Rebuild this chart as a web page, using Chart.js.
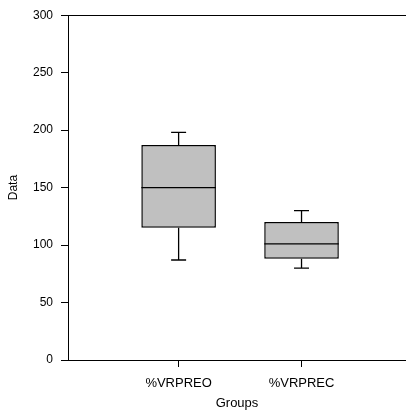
<!DOCTYPE html>
<html>
<head>
<meta charset="utf-8">
<script src="https://cdn.jsdelivr.net/npm/chart.js@4/dist/chart.umd.min.js"></script>
<style>
  html, body { margin: 0; padding: 0; background: #fff; }
  #wrap { width: 406px; height: 415px; }
</style>
</head>
<body>
<div id="wrap"><canvas id="c" width="406" height="415"></canvas></div>
<script>
// ---- data ----
const groups = ['%VRPREO', '%VRPREC'];
const whiskerLow = [87, 80];
const quartile1 = [115, 88];
const medians = [150, 101];
const quartile3 = [187, 120];
const whiskerHigh = [198, 130];
const yTicks = [0, 50, 100, 150, 200, 250, 300];

// ---- build datasets ----
const BOX_HALF = 0.303;
const CAP_HALF = 0.061;
const positions = groups.map((g, i) => i + 1);

const boxData = positions.map((x, i) => ({ x: x, y: [quartile1[i], quartile3[i]] }));

const whiskerPts = [];
positions.forEach((x, i) => {
  whiskerPts.push({ x: x, y: quartile3[i] }, { x: x, y: whiskerHigh[i] }, { x: x, y: null });
  whiskerPts.push({ x: x - CAP_HALF, y: whiskerHigh[i] }, { x: x + CAP_HALF, y: whiskerHigh[i] }, { x: x, y: null });
  whiskerPts.push({ x: x, y: quartile1[i] }, { x: x, y: whiskerLow[i] }, { x: x, y: null });
  whiskerPts.push({ x: x - CAP_HALF, y: whiskerLow[i] }, { x: x + CAP_HALF, y: whiskerLow[i] }, { x: x, y: null });
});
const medianPts = [];
positions.forEach((x, i) => {
  medianPts.push({ x: x - BOX_HALF, y: medians[i] }, { x: x + BOX_HALF, y: medians[i] }, { x: x, y: null });
});

const FONT = { family: "'Liberation Sans', Arial, sans-serif", size: 12 };
const XFONT = { family: "'Liberation Sans', Arial, sans-serif", size: 13 };

new Chart(document.getElementById('c'), {
  type: 'bar',
  data: {
    datasets: [
      {
        type: 'bar',
        data: boxData,
        backgroundColor: '#c0c0c0',
        borderColor: '#000',
        borderWidth: 1.5,
        borderSkipped: false,
        barPercentage: 0.607,
        categoryPercentage: 1,
        order: 2
      },
      {
        type: 'line',
        data: whiskerPts,
        borderColor: '#000',
        borderWidth: 1.3,
        pointRadius: 0,
        spanGaps: false,
        tension: 0,
        fill: false,
        order: 1
      },
      {
        type: 'line',
        data: medianPts,
        borderColor: '#000',
        borderWidth: 1.3,
        pointRadius: 0,
        spanGaps: false,
        tension: 0,
        fill: false,
        order: 0
      }
    ]
  },
  options: {
    responsive: false,
    animation: false,
    devicePixelRatio: 1,
    layout: { padding: { top: 15, right: 0, bottom: 0, left: 0 } },
    plugins: { legend: { display: false }, tooltip: { enabled: false } },
    scales: {
      x: {
        type: 'linear',
        min: 0.1,
        max: 2.85,
        offset: false,
        afterBuildTicks: (s) => { s.ticks = positions.map(v => ({ value: v })); },
        afterFit: (s) => { s.height = 55; },
        ticks: {
          color: '#000',
          font: XFONT,
          padding: 9,
          maxRotation: 0,
          autoSkip: false,
          callback: (v) => groups[Math.round(v) - 1] || ''
        },
        grid: { offset: false, drawOnChartArea: false, tickLength: 7, tickColor: '#000', tickWidth: 1 },
        border: { display: true, color: '#000', width: 1 },
        title: { display: true, text: 'Groups', color: '#000', font: XFONT, padding: { top: 0, bottom: 4 } }
      },
      y: {
        type: 'linear',
        min: 0,
        max: 300,
        afterBuildTicks: (s) => { s.ticks = yTicks.map(v => ({ value: v })); },
        afterFit: (s) => { s.width = 68; },
        ticks: { color: '#000', font: FONT, padding: 8 },
        grid: {
          drawOnChartArea: true,
          color: (ctx) => (ctx.tick && ctx.tick.value === 300) ? '#000' : 'rgba(0,0,0,0)',
          tickColor: '#000',
          tickLength: 7,
          lineWidth: 1
        },
        border: { display: true, color: '#000', width: 1 },
        title: { display: true, text: 'Data', color: '#000', font: FONT, padding: { top: 6, bottom: 0 } }
      }
    }
  }
});
</script>
</body>
</html>
